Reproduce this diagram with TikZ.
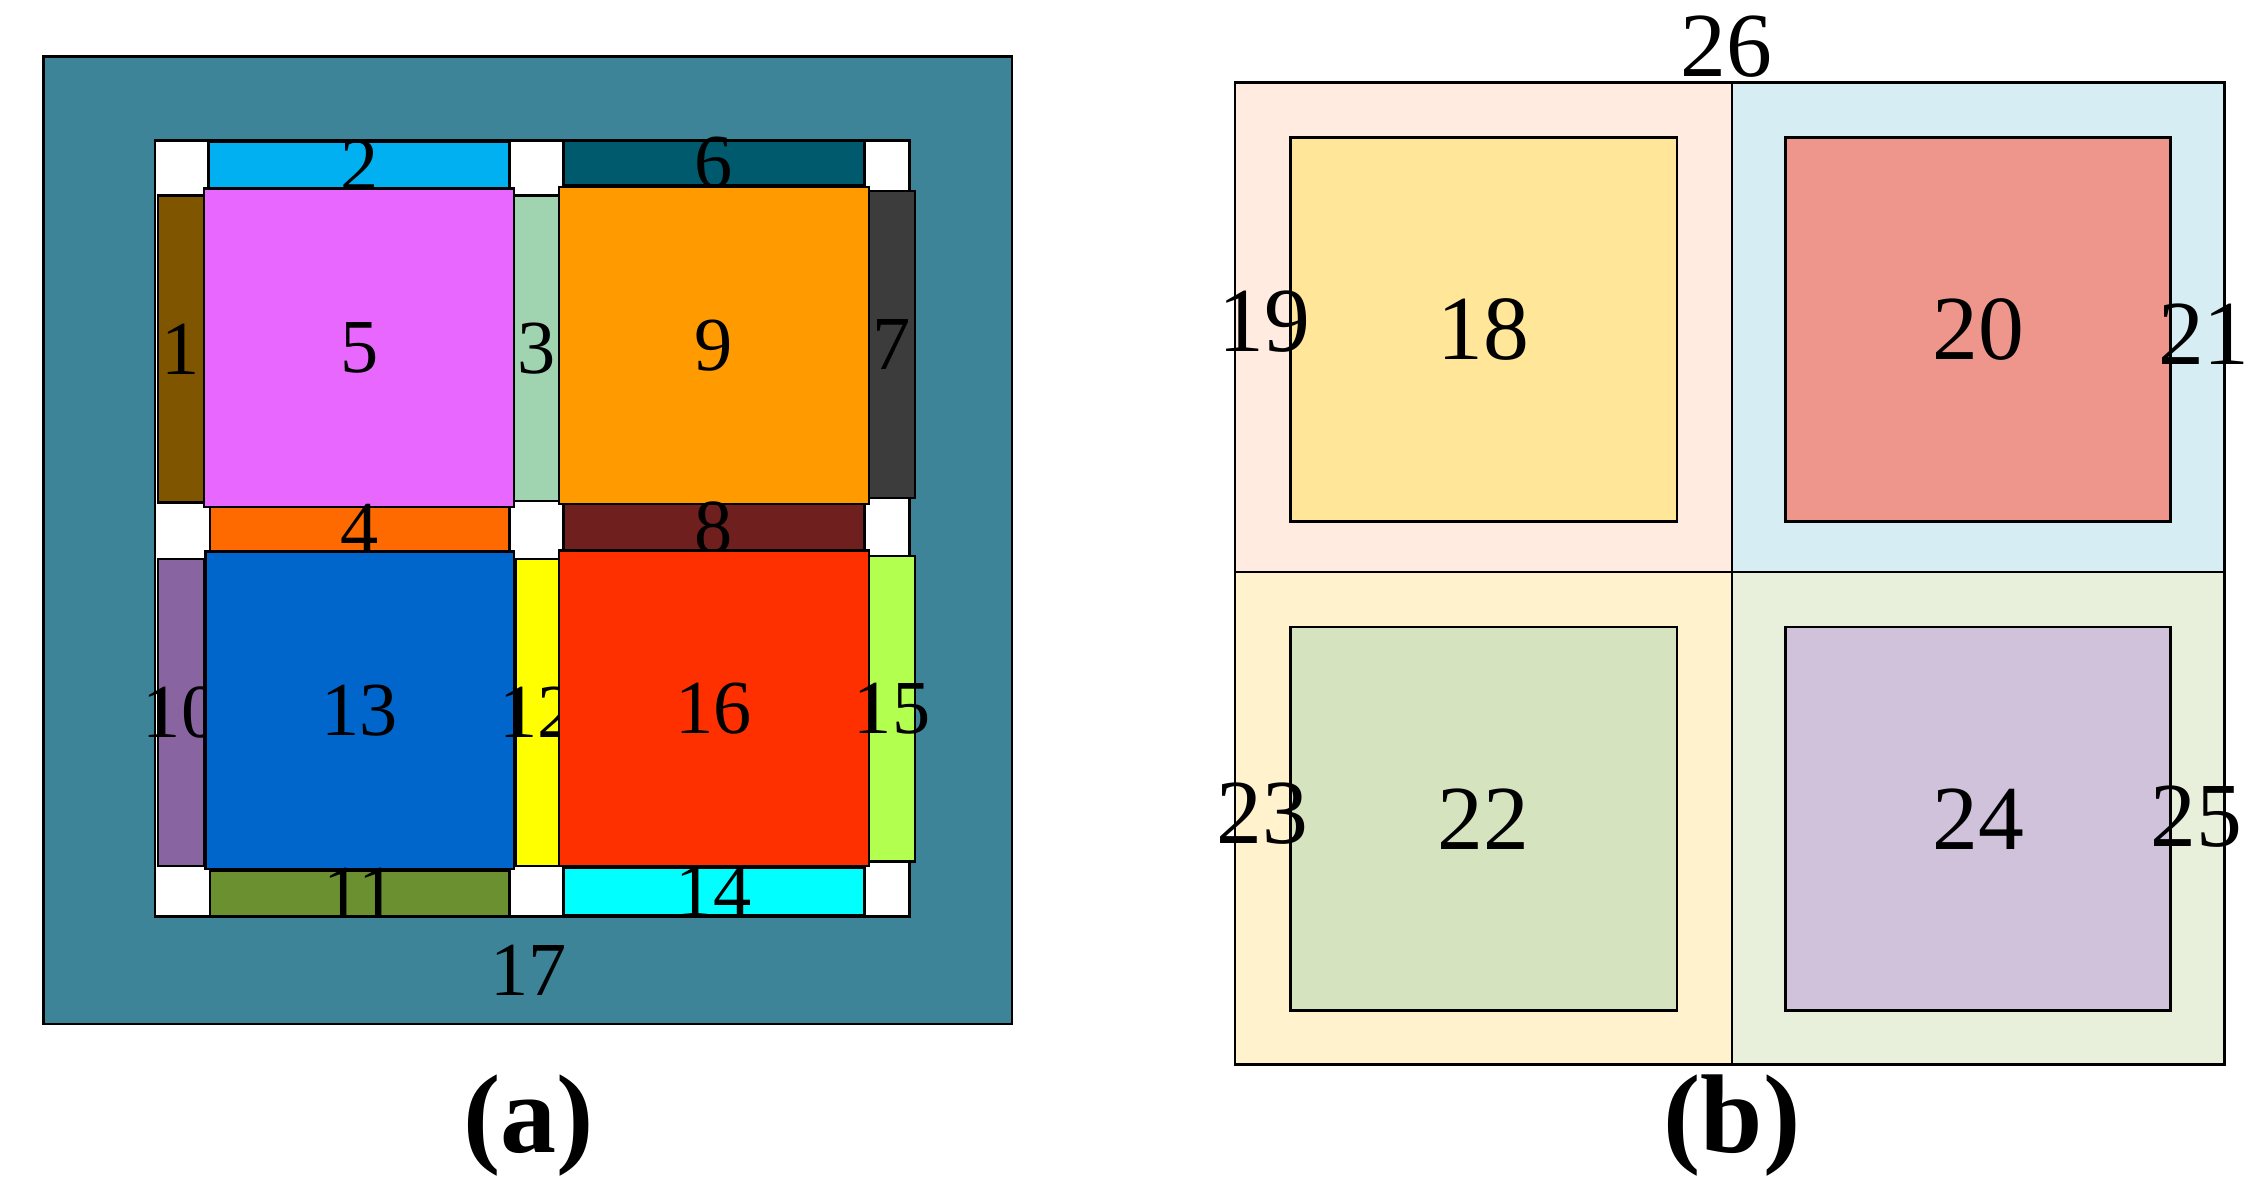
\documentclass[tikz,border=0pt]{standalone}
\usepackage{fontspec}
\setmainfont{Liberation Serif}
\begin{document}
\begin{tikzpicture}[x=0.1mm,y=-0.1mm,
 pc/.style={draw=black,line width=0.5pt},
 lb/.style={font=\fontsize{15}{17}\selectfont,inner sep=0pt},
 lbb/.style={font=\fontsize{18}{20}\selectfont,inner sep=0pt},
 captxt/.style={font=\fontsize{22}{26}\selectfont\bfseries,inner sep=0pt}]
\useasboundingbox (0,0) rectangle (1560,822);
\definecolor{teal17}{HTML}{3D8499}
% panel a
\draw[pc,fill=teal17] (30,39) rectangle (699,707);
\draw[pc,fill=white] (107,97) rectangle (628,633);
\definecolor{c2}{HTML}{00B0F0}\definecolor{c6}{HTML}{005A6E}\definecolor{c1}{HTML}{7F5500}
\definecolor{c5}{HTML}{E868FF}\definecolor{c3}{HTML}{A0D4B0}\definecolor{c9}{HTML}{FF9A00}
\definecolor{c7}{HTML}{3C3C3C}\definecolor{c4}{HTML}{FF6A00}\definecolor{c8}{HTML}{701F1F}
\definecolor{c10}{HTML}{8865A0}\definecolor{c13}{HTML}{0066CC}\definecolor{c12}{HTML}{FFFF00}
\definecolor{c16}{HTML}{FF3000}\definecolor{c15}{HTML}{B2FF50}\definecolor{c11}{HTML}{6A9030}
\definecolor{c14}{HTML}{00FFFF}
\foreach \a/\b/\c/\d/\n in {144/98/352/130/2, 389/97/597/128/6, 109/135/141/347/1,
 141/130/355/350/5, 355/135/386/346/3, 386/129/600/348/9, 600/132/632/344/7,
 145/350/352/381/4, 389/348/597/380/8, 109/386/141/598/10, 142/381/355/600/13,
 356/386/386/598/12, 386/380/600/598/16, 600/384/632/595/15, 145/601/352/633/11,
 389/599/597/632/14}
 {\draw[pc,fill=c\n] (\a,\b) rectangle (\c,\d) node[lb,midway] (p\n) {\n};}
\node[lb] (p17) at (365,670) {17};
\node[captxt] (ca) at (365,777) {(a)};
% panel b
\definecolor{q1}{HTML}{FFEBE0}\definecolor{q2}{HTML}{D6EEF3}\definecolor{q3}{HTML}{FFF2CC}\definecolor{q4}{HTML}{E8F0DC}
\definecolor{c18}{HTML}{FFE699}\definecolor{c20}{HTML}{EE968C}\definecolor{c22}{HTML}{D5E3BF}\definecolor{c24}{HTML}{D1C2DC}
\draw[pc,fill=q1] (853,57) rectangle (1196,395);
\draw[pc,fill=q2] (1196,57) rectangle (1536,395);
\draw[pc,fill=q3] (853,395) rectangle (1196,735);
\draw[pc,fill=q4] (1196,395) rectangle (1536,735);
\foreach \a/\b/\c/\d/\n in {891/95/1158/360/18, 1233/95/1499/360/20, 891/433/1158/698/22, 1233/433/1499/698/24}
 {\draw[pc,fill=c\n] (\a,\b) rectangle (\c,\d) node[lbb,midway] (p\n) {\n};}
\node[lbb] (p26) at (1192,32) {26};
\node[lbb] (p19) at (873,222) {19};
\node[lbb] (p21) at (1522,231) {21};
\node[lbb] (p23) at (872,562) {23};
\node[lbb] (p25) at (1517,564) {25};
\node[captxt] (cb) at (1196,777) {(b)};
\end{tikzpicture}
\end{document}
